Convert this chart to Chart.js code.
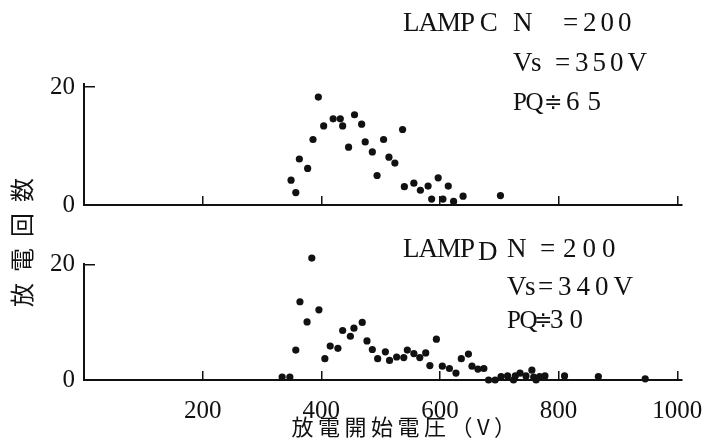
<!DOCTYPE html>
<html>
<head>
<meta charset="utf-8">
<script src="https://cdn.jsdelivr.net/npm/chart.js@4"></script>
<style>
  html, body { margin: 0; padding: 0; background: #fff; }
  #wrap { position: relative; width: 707px; height: 439px; }
  #wrap canvas { position: absolute; left: 0; top: 0; }
</style>
</head>
<body>
<div id="wrap">
  <canvas id="panelC" width="707" height="439"></canvas>
  <canvas id="panelD" width="707" height="439"></canvas>
</div>
<script>
// tick labels
const xTicks = [200, 400, 600, 800, 1000];
const yTicks = [0, 20];

// LAMP C (upper panel): discharge start voltage (V) / number of discharges
const lampCVolts = [349, 357, 363, 377, 386, 395, 404, 420, 432, 436, 446, 456, 468, 474, 486, 494,
  505, 514, 524, 537, 540, 556, 567, 580, 586, 597, 605, 614, 623, 639, 702];
const lampCCounts = [4.2, 2.1, 7.8, 6.2, 11.1, 18.3, 13.4, 14.6, 14.6, 13.4, 9.8, 15.3, 13.7, 10.7, 9.0, 5.0,
  11.1, 8.1, 7.1, 12.8, 3.1, 3.7, 2.5, 3.2, 1.0, 4.6, 1.0, 3.2, 0.6, 1.5, 1.6];

// LAMP D (lower panel)
const lampDVolts = [334, 347, 357, 364, 376, 384, 396, 406, 415, 428, 436, 449, 455, 469, 477, 486,
  495, 508, 515, 527, 539, 545, 556, 566, 576, 583, 594, 604, 616, 627, 636, 648, 654, 664, 674,
  682, 693, 703, 714, 724, 727, 735, 745, 755, 758, 762, 768, 777, 810, 867, 946];
const lampDCounts = [0.5, 0.5, 5.2, 13.6, 10.1, 21.2, 12.2, 3.7, 5.9, 5.5, 8.6, 7.6, 9.0, 10.0, 6.8, 5.3,
  3.7, 4.9, 3.4, 4.0, 3.9, 5.2, 4.6, 3.9, 4.7, 2.5, 7.1, 2.4, 2.0, 1.2, 3.7, 4.5, 2.4, 1.9, 2.0,
  0, 0, 0.6, 0.7, 0, 0.7, 1.2, 0.7, 1.7, 0.5, 0, 0.6, 0.7, 0.7, 0.6, 0.2];

// texts
const yTitle = "放電回数";
const xTitle = "放電開始電圧（V）";
const lampCName = "LAMP C";
const lampCKeys = ["N", "Vs", "PQ"];
const lampCOps = ["=", "=", "≑"];
const lampCVals = ["200", "350V", "65"];
const lampDName = ["LAMP", "D"];
const lampDKeys = ["N", "Vs", "PQ"];
const lampDOps = ["=", "=", "≑"];
const lampDVals = ["200", "340V", "30"];

const INK = '#111';
const SERIF = '"Liberation Serif", "DejaVu Serif", serif';
const CJK = '"Noto Sans CJK JP", "Noto Sans CJK SC", sans-serif';

function text(ctx, s, x, y, size, spacing, font) {
  ctx.font = size + 'px ' + (font || SERIF);
  ctx.letterSpacing = (spacing || 0) + 'px';
  ctx.fillText(s, x, y);
}

// axisTop: value where the drawn y axis line stops (scale may run a bit higher so tall dots still show)
function panelOptions(yMax, axisTop, showLabels, padTop, xHeight) {
  return {
    responsive: false,
    animation: false,
    layout: { padding: { top: padTop, right: 25, bottom: 0, left: 0 } },
    plugins: { legend: { display: false }, tooltip: { enabled: false }, yLine: { top: axisTop } },
    scales: {
      x: {
        type: 'linear', min: 0, max: 1008,
        afterBuildTicks: s => { s.ticks = xTicks.map(v => ({ value: v })); },
        afterFit: s => { s.height = xHeight; s.paddingLeft = 0; s.paddingRight = 0; },
        border: { display: true, color: INK, width: 2 },
        grid: { drawOnChartArea: false, drawTicks: true, tickLength: -9, color: INK, lineWidth: 1.5 },
        ticks: { display: showLabels, color: INK, padding: 25, maxRotation: 0,
                 callback: v => String(v),
                 font: { family: SERIF, size: 25 } }
      },
      y: {
        min: 0, max: yMax,
        afterBuildTicks: s => { s.ticks = yTicks.map(v => ({ value: v })); },
        afterFit: s => { s.width = 84; },
        border: { display: false },
        grid: { drawOnChartArea: false, drawTicks: true, tickLength: -11, color: INK, lineWidth: 1.5 },
        ticks: { color: INK, padding: 20, font: { family: SERIF, size: 25 } }
      }
    }
  };
}

// draws the y axis line only up to the top value
const yLine = {
  id: 'yLine',
  afterDraw(chart, args, opts) {
    const y = chart.scales.y;
    const ctx = chart.ctx;
    ctx.save();
    ctx.strokeStyle = INK;
    ctx.lineWidth = 2;
    ctx.beginPath();
    ctx.moveTo(y.right, y.getPixelForValue(opts.top));
    ctx.lineTo(y.right, y.getPixelForValue(0) + 1);
    ctx.stroke();
    ctx.restore();
  }
};

function points(volts, counts) {
  return volts.map((v, i) => ({ x: v, y: counts[i] }));
}

function dotSet(volts, counts) {
  return {
    data: points(volts, counts),
    showLine: false,
    pointRadius: 3.6,
    pointBackgroundColor: INK,
    pointBorderWidth: 0,
    clip: false
  };
}

// one block of "key  op  value" rows next to a lamp name
function drawRows(ctx, keys, ops, vals, keyX, rowY, opX, valX, valSp) {
  keys.forEach((k, i) => {
    text(ctx, k, keyX, rowY[i], k === 'PQ' ? 25 : 27, -1.5);
    if (ops[i] === '≑') text(ctx, ops[i], opX[i], rowY[i], 22, 0, '"DejaVu Sans", sans-serif');
    else text(ctx, ops[i], opX[i], rowY[i], 27, 0);
    text(ctx, vals[i], valX[i], rowY[i], 27, valSp[i]);
  });
}

// upper panel: LAMP C
new Chart(document.getElementById('panelC'), {
  type: 'scatter',
  data: { datasets: [dotSet(lampCVolts, lampCCounts)] },
  options: panelOptions(20.68, 20.68, false, 83, 234),
  plugins: [yLine, {
    id: 'notesC',
    afterDraw(chart) {
      const ctx = chart.ctx;
      ctx.save();
      ctx.fillStyle = INK;
      ctx.textBaseline = 'middle';
      text(ctx, lampCName, 403, 24, 27, -1);
      drawRows(ctx, lampCKeys, lampCOps, lampCVals, 513, [24, 64, 103],
        [563, 555, 544], [583, 575, 566], [4, 4, 8]);
      ctx.restore();
    }
  }]
});

// lower panel: LAMP D, carries the shared axis titles
new Chart(document.getElementById('panelD'), {
  type: 'scatter',
  data: { datasets: [dotSet(lampDVolts, lampDCounts)] },
  options: panelOptions(21.9, 20.35, true, 254, 59),
  plugins: [yLine, {
    id: 'notesD',
    afterDraw(chart) {
      const ctx = chart.ctx;
      ctx.save();
      ctx.fillStyle = INK;
      ctx.textBaseline = 'middle';
      text(ctx, lampDName[0], 403, 250, 27, -1);
      text(ctx, lampDName[1], 478, 253, 27, 0);
      drawRows(ctx, lampDKeys, lampDOps, lampDVals, 507, [250, 288, 321],
        [540, 538, 534], [563, 558, 550], [6, 5, 6]);

      // x title
      ctx.textAlign = 'center';
      text(ctx, xTitle, 406, 427, 22, 4.5, CJK);

      // y title, rotated
      ctx.translate(22, 237);
      ctx.rotate(-Math.PI / 2);
      text(ctx, yTitle, 0, 0, 24, 11, CJK);
      ctx.restore();
    }
  }]
});
</script>
</body>
</html>
